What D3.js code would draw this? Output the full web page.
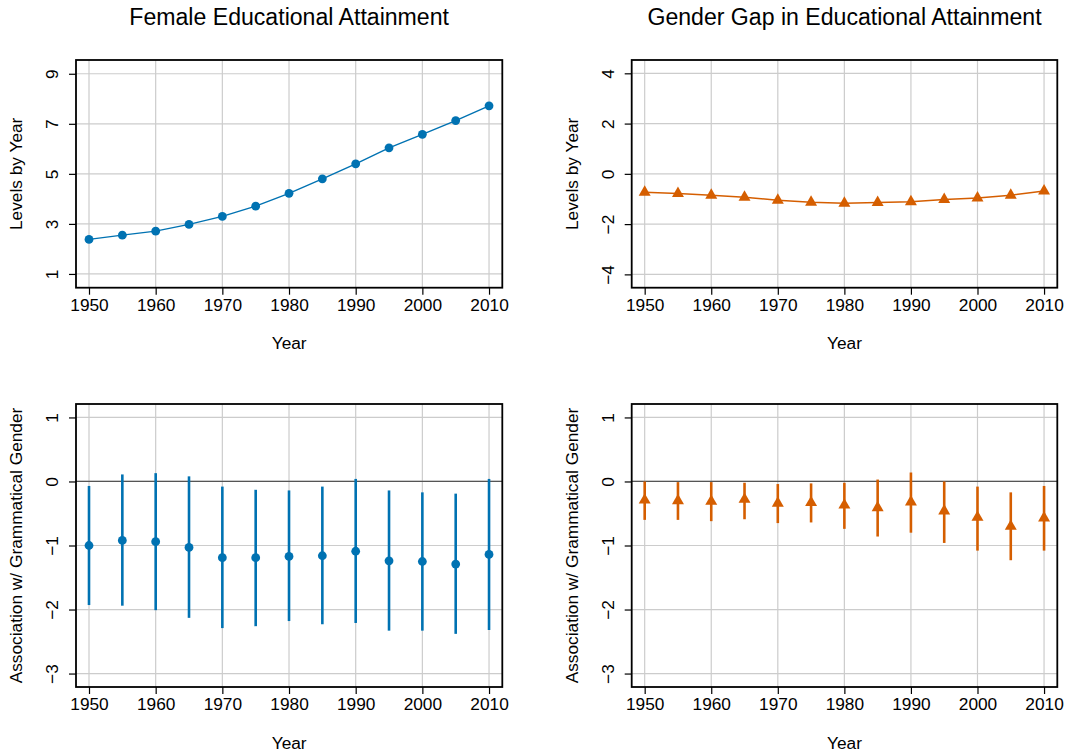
<!DOCTYPE html>
<html>
<head>
<meta charset="utf-8">
<script src="https://cdn.jsdelivr.net/npm/d3@7"></script>
<style>
  html, body { margin: 0; padding: 0; background: #ffffff; }
  svg { display: block; font-family: "Liberation Sans", Arial, sans-serif; }
</style>
</head>
<body>
<svg id="chart" width="1085" height="756"></svg>
<script>
// ---- data ----
const years = [1950, 1955, 1960, 1965, 1970, 1975, 1980, 1985, 1990, 1995, 2000, 2005, 2010];
const xTicks = [1950, 1960, 1970, 1980, 1990, 2000, 2010];

const femaleLevels = [2.38, 2.55, 2.71, 2.98, 3.30, 3.71, 4.22, 4.80, 5.40, 6.04, 6.58, 7.13, 7.72];
const gapLevels = [-0.73, -0.78, -0.85, -0.93, -1.05, -1.13, -1.17, -1.14, -1.11, -1.02, -0.96, -0.85, -0.68];

const femaleAssoc = [-1.00, -0.92, -0.94, -1.03, -1.19, -1.19, -1.17, -1.16, -1.09, -1.24, -1.25, -1.29, -1.14];
const femaleAssocLo = [-1.93, -1.94, -2.01, -2.13, -2.29, -2.26, -2.18, -2.23, -2.21, -2.33, -2.33, -2.38, -2.32];
const femaleAssocHi = [-0.07, 0.11, 0.13, 0.08, -0.08, -0.13, -0.14, -0.08, 0.04, -0.14, -0.17, -0.19, 0.04];

const gapAssoc = [-0.29, -0.30, -0.31, -0.28, -0.34, -0.33, -0.37, -0.41, -0.32, -0.46, -0.56, -0.70, -0.57];
const gapAssocLo = [-0.60, -0.60, -0.62, -0.59, -0.65, -0.64, -0.74, -0.86, -0.80, -0.96, -1.08, -1.23, -1.08];
const gapAssocHi = [0.00, -0.01, -0.01, -0.02, -0.04, -0.03, -0.02, 0.03, 0.14, 0.00, -0.08, -0.17, -0.07];

const topYTicks1 = [1, 3, 5, 7, 9];
const topYTicks2 = [-4, -2, 0, 2, 4];
const bottomYTicks = [-3, -2, -1, 0, 1];

const titles = ["Female Educational Attainment", "Gender Gap in Educational Attainment"];
const xLabel = "Year";
const yLabelTop = "Levels by Year";
const yLabelBottom = "Association w/ Grammatical Gender";

// ---- styles ----
const BLUE = "#0072B2";
const ORANGE = "#D55E00";
const GRID = "#cccccc";
const FS = 17.3;
const FONT = "Liberation Sans, Arial, sans-serif";

const svg = d3.select("#chart");

const panels = [
  { left: 76, right: 502.3, top: 60, bottom: 287.7, ydom: [0.45, 9.55], yticks: topYTicks1, ylabel: yLabelTop,
    type: "line", vals: femaleLevels, color: BLUE, shape: "circle", title: titles[0] },
  { left: 631.7, right: 1057.3, top: 60, bottom: 287.7, ydom: [-4.53, 4.53], yticks: topYTicks2, ylabel: yLabelTop,
    type: "line", vals: gapLevels, color: ORANGE, shape: "triangle", title: titles[1] },
  { left: 76, right: 502.3, top: 404, bottom: 687, ydom: [-3.21, 1.21], yticks: bottomYTicks, ylabel: yLabelBottom,
    type: "ci", vals: femaleAssoc, lo: femaleAssocLo, hi: femaleAssocHi, color: BLUE, shape: "circle" },
  { left: 631.7, right: 1057.3, top: 404, bottom: 687, ydom: [-3.21, 1.21], yticks: bottomYTicks, ylabel: yLabelBottom,
    type: "ci", vals: gapAssoc, lo: gapAssocLo, hi: gapAssocHi, color: ORANGE, shape: "triangle" }
];

const triPath = d3.symbol().type(d3.symbolTriangle).size(62);

panels.forEach(p => {
  const x = d3.scaleLinear().domain([1948.05, 2011.99]).range([p.left, p.right]);
  const y = d3.scaleLinear().domain(p.ydom).range([p.bottom, p.top]);
  const g = svg.append("g");

  // grid
  g.selectAll(".vg").data(xTicks).enter().append("line")
    .attr("x1", d => x(d)).attr("x2", d => x(d))
    .attr("y1", p.top).attr("y2", p.bottom)
    .attr("stroke", GRID).attr("stroke-width", 1.2);
  g.selectAll(".hg").data(p.yticks).enter().append("line")
    .attr("x1", p.left).attr("x2", p.right)
    .attr("y1", d => y(d)).attr("y2", d => y(d))
    .attr("stroke", GRID).attr("stroke-width", 1.2);

  // zero line for association panels
  if (p.type === "ci") {
    g.append("line")
      .attr("x1", p.left).attr("x2", p.right)
      .attr("y1", y(0)).attr("y2", y(0))
      .attr("stroke", "#555555").attr("stroke-width", 1.2);
  }

  // axes
  const xAxis = d3.axisBottom(x).tickValues(xTicks).tickFormat(d3.format("d")).tickSize(7).tickPadding(4);
  const xg = g.append("g").attr("transform", `translate(0,${p.bottom})`).call(xAxis);
  xg.select(".domain").remove();
  xg.selectAll(".tick line").attr("stroke", "#000").attr("stroke-width", 1.2);
  xg.selectAll(".tick text").attr("font-size", FS).attr("fill", "#000").attr("font-family", FONT);

  const yAxis = d3.axisLeft(y).tickValues(p.yticks).tickFormat(d3.format("d")).tickSize(7);
  const yg = g.append("g").attr("transform", `translate(${p.left},0)`).call(yAxis);
  yg.select(".domain").remove();
  yg.selectAll(".tick line").attr("stroke", "#000").attr("stroke-width", 1.2);
  yg.selectAll(".tick text")
    .attr("x", null).attr("dy", null)
    .attr("transform", "translate(-18,0) rotate(-90)")
    .attr("text-anchor", "middle")
    .attr("font-size", FS).attr("fill", "#000").attr("font-family", FONT);

  // box
  g.append("rect")
    .attr("x", p.left).attr("y", p.top)
    .attr("width", p.right - p.left).attr("height", p.bottom - p.top)
    .attr("fill", "none").attr("stroke", "#000").attr("stroke-width", 1.8);

  // labels
  g.append("text")
    .attr("x", (p.left + p.right) / 2).attr("y", p.bottom + 61.5)
    .attr("text-anchor", "middle").attr("font-size", FS).text(xLabel);
  g.append("text")
    .attr("transform", `translate(${p.left - 54},${(p.top + p.bottom) / 2}) rotate(-90)`)
    .attr("text-anchor", "middle").attr("font-size", FS).text(p.ylabel);
  if (p.title) {
    g.append("text")
      .attr("x", (p.left + p.right) / 2).attr("y", 25)
      .attr("text-anchor", "middle").attr("font-size", 23.1).text(p.title);
  }

  const data = years.map((yr, i) => ({ yr, v: p.vals[i], lo: p.lo ? p.lo[i] : null, hi: p.hi ? p.hi[i] : null }));

  if (p.type === "line") {
    g.append("path").datum(data)
      .attr("d", d3.line().x(d => x(d.yr)).y(d => y(d.v)))
      .attr("fill", "none").attr("stroke", p.color).attr("stroke-width", 1.4);
  } else {
    g.selectAll(".ci").data(data).enter().append("line")
      .attr("x1", d => x(d.yr)).attr("x2", d => x(d.yr))
      .attr("y1", d => y(d.lo)).attr("y2", d => y(d.hi))
      .attr("stroke", p.color).attr("stroke-width", 2.6);
  }

  if (p.shape === "circle") {
    g.selectAll(".pt").data(data).enter().append("circle")
      .attr("cx", d => x(d.yr)).attr("cy", d => y(d.v)).attr("r", 4.4)
      .attr("fill", p.color);
  } else {
    g.selectAll(".pt").data(data).enter().append("path")
      .attr("d", triPath)
      .attr("transform", d => `translate(${x(d.yr)},${y(d.v)})`)
      .attr("fill", p.color);
  }
});
</script>
</body>
</html>
